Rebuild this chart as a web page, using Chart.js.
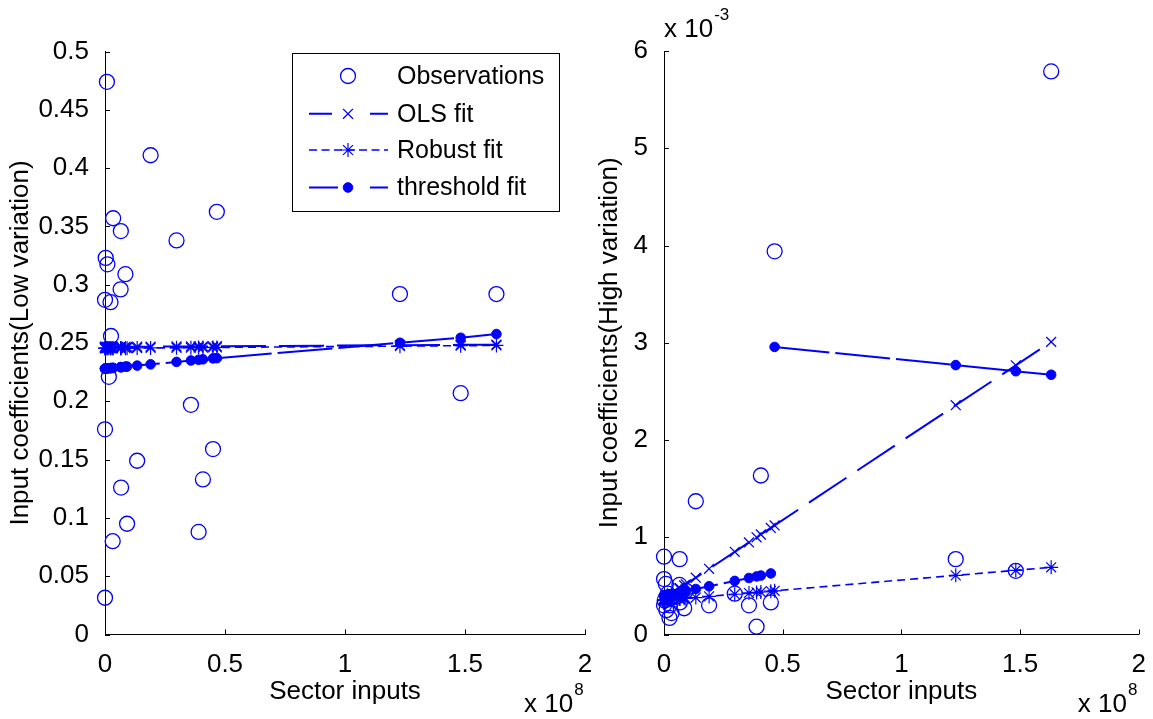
<!DOCTYPE html>
<html>
<head>
<meta charset="utf-8">
<script src="https://cdn.jsdelivr.net/npm/chart.js@4.4.0/dist/chart.umd.min.js"></script>
<style>
  html, body { margin: 0; padding: 0; background: #fff; }
  #wrap { position: relative; width: 1153px; height: 719px; overflow: hidden; background: #fff; }
  #leftChart { position: absolute; left: 0; top: 0; }
  #rightChart { position: absolute; left: 580px; top: 0; }
</style>
</head>
<body>
<div id="wrap">
  <canvas id="leftChart" width="600" height="719"></canvas>
  <canvas id="rightChart" width="573" height="719"></canvas>
</div>
<script>
// sector inputs, in units of 10^8
const sectorInputs = [0.000, 0.000, 0.000, 0.003, 0.008, 0.010, 0.016, 0.023, 0.025, 0.032, 0.034, 0.065, 0.066, 0.067,
  0.085, 0.092, 0.134, 0.190, 0.298, 0.358, 0.390, 0.408, 0.450, 0.466, 1.229, 1.482, 1.631];

// left panel: low variation coefficients
const lowObs = [0.0315, 0.176, 0.287, 0.323, 0.474, 0.3175, 0.221, 0.285, 0.256, 0.080, 0.357, 0.296, 0.346, 0.126,
  0.309, 0.095, 0.149, 0.411, 0.338, 0.197, 0.088, 0.133, 0.159, 0.3625, 0.292, 0.207, 0.292];
const lowOls = [0.2466, 0.2466, 0.2466, 0.2466, 0.2466, 0.2466, 0.2466, 0.2466, 0.2466, 0.2466, 0.2466, 0.2467, 0.2467, 0.2467,
  0.2467, 0.2467, 0.2468, 0.2468, 0.2470, 0.2470, 0.2471, 0.2471, 0.2471, 0.2472, 0.2481, 0.2484, 0.2486];
const lowRobust = [0.2455, 0.2455, 0.2455, 0.2455, 0.2455, 0.2455, 0.2455, 0.2455, 0.2455, 0.2455, 0.2456, 0.2456, 0.2456, 0.2456,
  0.2456, 0.2456, 0.2457, 0.2458, 0.2459, 0.2460, 0.2461, 0.2461, 0.2462, 0.2462, 0.2473, 0.2477, 0.2479];
const lowThreshold = [0.2280, 0.2280, 0.2280, 0.2281, 0.2282, 0.2282, 0.2283, 0.2285, 0.2285, 0.2286, 0.2287, 0.2293, 0.2293, 0.2293,
  0.2297, 0.2298, 0.2306, 0.2317, 0.2338, 0.2350, 0.2356, 0.2360, 0.2368, 0.2370, 0.2502, 0.2545, 0.2577];

// right panel: high variation coefficients, in units of 10^-3
const highObs = [0.57, 0.30, 0.80, 0.35, 0.52, 0.25, 0.42, 0.17, 0.30, 0.22, 0.38, 0.51, 0.775, 0.33,
  0.27, 0.45, 1.37, 0.30, 0.42, 0.30, 0.08, 1.635, 0.33, 3.94, 0.775, 0.655, 5.79];
const highOls = [0.367, 0.367, 0.367, 0.372, 0.380, 0.383, 0.393, 0.404, 0.408, 0.419, 0.422, 0.472, 0.474, 0.476,
  0.505, 0.516, 0.584, 0.675, 0.850, 0.947, 0.999, 1.028, 1.096, 1.122, 2.358, 2.768, 3.009];
const highRobust = [0.352, 0.352, 0.352, 0.353, 0.354, 0.354, 0.355, 0.357, 0.357, 0.359, 0.359, 0.366, 0.366, 0.366,
  0.370, 0.371, 0.380, 0.392, 0.414, 0.426, 0.433, 0.437, 0.446, 0.449, 0.608, 0.660, 0.691];
const highThreshold = [0.400, 0.400, 0.400, 0.402, 0.404, 0.405, 0.408, 0.412, 0.413, 0.416, 0.417, 0.433, 0.433, 0.434,
  0.443, 0.447, 0.468, 0.496, 0.551, 0.581, 0.597, 0.606, 0.628, 2.957, 2.770, 2.707, 2.671];
// first point of the upper regime
const regimeBreak = 23;

const xTicks = [0, 0.5, 1, 1.5, 2];
const xTickLabels = ['0', '0.5', '1', '1.5', '2'];
const lowYTicks = [0, 0.05, 0.1, 0.15, 0.2, 0.25, 0.3, 0.35, 0.4, 0.45, 0.5];
const lowYTickLabels = ['0', '0.05', '0.1', '0.15', '0.2', '0.25', '0.3', '0.35', '0.4', '0.45', '0.5'];
const highYTicks = [0, 1, 2, 3, 4, 5, 6];
const highYTickLabels = ['0', '1', '2', '3', '4', '5', '6'];

const BLUE = '#0000ff';
const FONT = 'Liberation Sans, Arial, Helvetica, sans-serif';

function pts(ys, from, to) {
  return ys.slice(from, to).map((y, i) => ({ x: sectorInputs[from + i], y: y }));
}

function makeDatasets(obs, ols, robust, thr) {
  return [
    { label: 'Observations', data: pts(obs, 0), showLine: false, order: 3, clip: false,
      pointStyle: 'circle', pointRadius: 7.5, pointBorderWidth: 1.3,
      pointBorderColor: BLUE, pointBackgroundColor: 'rgba(0,0,0,0)' },
    { label: 'OLS fit', data: pts(ols, 0), showLine: true, order: 2, clip: false,
      borderColor: BLUE, borderWidth: 2, borderDash: [45, 13], legendDash: [23, 38],
      pointStyle: 'crossRot', pointRadius: 7, pointBorderWidth: 1.3, pointBorderColor: BLUE },
    { label: 'Robust fit', data: pts(robust, 0), showLine: true, order: 1, clip: false,
      borderColor: BLUE, borderWidth: 1.6, borderDash: [8, 5], legendDash: [8, 4.5],
      pointStyle: 'star', pointRadius: 7, pointBorderWidth: 1.2, pointBorderColor: BLUE },
    { label: 'threshold fit', data: pts(thr, 0, regimeBreak), showLine: true, order: 0, clip: false,
      borderColor: BLUE, borderWidth: 2, borderDash: [55, 6], legendDash: [29, 32],
      pointStyle: 'circle', pointRadius: 4.8, pointBorderWidth: 1, pointBorderColor: BLUE, pointBackgroundColor: BLUE },
    { label: 'threshold fit (upper)', data: pts(thr, regimeBreak), showLine: true, order: 0, clip: false,
      borderColor: BLUE, borderWidth: 2, borderDash: [55, 6],
      pointStyle: 'circle', pointRadius: 4.8, pointBorderWidth: 1, pointBorderColor: BLUE, pointBackgroundColor: BLUE }
  ];
}

function drawMarker(ctx, style, r, x, y, filled) {
  ctx.beginPath();
  if (style === 'circle') {
    ctx.arc(x, y, r, 0, Math.PI * 2);
    if (filled) ctx.fill();
    ctx.stroke();
    return;
  }
  const d = r * Math.SQRT1_2;
  ctx.moveTo(x - d, y - d); ctx.lineTo(x + d, y + d);
  ctx.moveTo(x - d, y + d); ctx.lineTo(x + d, y - d);
  if (style === 'star') {
    ctx.moveTo(x - r, y); ctx.lineTo(x + r, y);
    ctx.moveTo(x, y - r); ctx.lineTo(x, y + r);
  }
  ctx.stroke();
}

// inward tick marks and the "x 10^n" multipliers, MATLAB style
const matlabAxes = {
  id: 'matlabAxes',
  beforeDatasetsDraw(chart) {
    const ctx = chart.ctx, xs = chart.scales.x, ys = chart.scales.y;
    ctx.save();
    ctx.strokeStyle = '#000';
    ctx.lineWidth = 1;
    ctx.beginPath();
    xs.ticks.forEach(t => {
      const px = Math.round(xs.getPixelForValue(t.value)) + 0.5;
      ctx.moveTo(px, ys.bottom); ctx.lineTo(px, ys.bottom - 5);
    });
    ys.ticks.forEach(t => {
      const py = Math.round(ys.getPixelForValue(t.value)) + 0.5;
      ctx.moveTo(xs.left, py); ctx.lineTo(xs.left + 5, py);
    });
    ctx.stroke();
    ctx.restore();
  },
  afterDraw(chart, args, opts) {
    const ctx = chart.ctx, area = chart.chartArea;
    ctx.save();
    ctx.fillStyle = '#000';
    ctx.textBaseline = 'alphabetic';
    ctx.textAlign = 'left';
    const mult = (x, y, exp) => {
      ctx.font = '26px ' + FONT;
      ctx.fillText('x 10', x, y);
      const w = ctx.measureText('x 10').width;
      ctx.font = '17px ' + FONT;
      ctx.fillText(exp, x + w + 1, y - 17);
    };
    if (opts.xExp) mult(area.right - 61, 712, opts.xExp);
    if (opts.yExp) mult(area.left, 37, opts.yExp);
    ctx.restore();
  }
};

// legend box drawn inside the axes like MATLAB's 'NorthEast' legend
const matlabLegend = {
  id: 'matlabLegend',
  afterDraw(chart, args, opts) {
    if (!opts.box) return;
    const ctx = chart.ctx, b = opts.box;
    ctx.save();
    ctx.fillStyle = '#fff';
    ctx.fillRect(b.left, b.top, b.right - b.left, b.bottom - b.top);
    ctx.strokeStyle = '#000';
    ctx.lineWidth = 1;
    ctx.strokeRect(Math.round(b.left) + 0.5, Math.round(b.top) + 0.5, Math.round(b.right - b.left), Math.round(b.bottom - b.top));
    opts.entries.forEach((idx, row) => {
      const ds = chart.data.datasets[idx];
      const y = b.rows[row];
      ctx.strokeStyle = BLUE;
      ctx.fillStyle = BLUE;
      if (ds.showLine) {
        ctx.save();
        ctx.lineWidth = ds.borderWidth;
        ctx.setLineDash(ds.legendDash || []);
        ctx.beginPath();
        ctx.moveTo(b.lineFrom, y); ctx.lineTo(b.lineTo, y);
        ctx.stroke();
        ctx.restore();
      }
      ctx.lineWidth = ds.pointBorderWidth;
      ctx.setLineDash([]);
      drawMarker(ctx, ds.pointStyle, ds.pointRadius, b.markerX, y, ds.pointBackgroundColor === BLUE);
      ctx.fillStyle = '#000';
      ctx.font = '25px ' + FONT;
      ctx.textBaseline = 'middle';
      ctx.textAlign = 'left';
      ctx.fillText(ds.label, b.textX, y + 1);
    });
    ctx.restore();
  }
};

function makeOptions(p) {
  const tickFont = { family: FONT, size: 26, lineHeight: 1.2 };
  return {
    responsive: false,
    animation: false,
    events: [],
    layout: { padding: { left: 0, right: p.padRight, top: p.padTop, bottom: 0 } },
    plugins: {
      legend: { display: false },
      tooltip: { enabled: false },
      matlabAxes: { xExp: '8', yExp: p.yExp },
      matlabLegend: { box: p.legendBox, entries: [0, 1, 2, 3] }
    },
    scales: {
      x: {
        type: 'linear', min: 0, max: 2,
        afterBuildTicks: s => { s.ticks = xTicks.map(v => ({ value: v })); },
        afterFit: s => { s.height = 84.5; },
        ticks: { callback: (v, i) => xTickLabels[i], font: tickFont, color: '#000', padding: 7, maxRotation: 0, autoSkip: false },
        grid: { display: false },
        border: { display: true, color: '#000', width: 1 },
        title: { display: true, text: 'Sector inputs', font: tickFont, color: '#000', padding: { top: 0, bottom: 12 } }
      },
      y: {
        type: 'linear', min: p.yTicks[0], max: p.yTicks[p.yTicks.length - 1],
        afterBuildTicks: s => { s.ticks = p.yTicks.map(v => ({ value: v })); },
        afterFit: s => { s.width = p.yWidth; },
        ticks: { callback: (v, i) => p.yLabels[i], font: tickFont, color: '#000', padding: 8, autoSkip: false },
        grid: { display: false },
        border: { display: true, color: '#000', width: 1 },
        title: { display: true, text: p.yTitle, font: tickFont, color: '#000', padding: { top: p.yTitlePad, bottom: 0 } }
      }
    }
  };
}

new Chart(document.getElementById('leftChart'), {
  type: 'scatter',
  data: { datasets: makeDatasets(lowObs, lowOls, lowRobust, lowThreshold) },
  options: makeOptions({
    padRight: 15, padTop: 51.5, yWidth: 105, yTitlePad: 5.4,
    yTicks: lowYTicks, yLabels: lowYTickLabels,
    yTitle: 'Input coefficients(Low variation)', yExp: null,
    legendBox: { left: 292, top: 52.7, right: 558.6, bottom: 211, rows: [76, 113.8, 150, 187.5],
      lineFrom: 309, lineTo: 388, markerX: 348, textX: 397 }
  }),
  plugins: [matlabAxes, matlabLegend]
});

new Chart(document.getElementById('rightChart'), {
  type: 'scatter',
  data: { datasets: makeDatasets(highObs, highOls, highRobust, highThreshold) },
  options: makeOptions({
    padRight: 6.6, padTop: 51, yWidth: 84, yTitlePad: 14.4,
    yTicks: highYTicks, yLabels: highYTickLabels,
    yTitle: 'Input coefficients(High variation)', yExp: '-3',
    legendBox: null
  }),
  plugins: [matlabAxes, matlabLegend]
});
</script>
</body>
</html>
